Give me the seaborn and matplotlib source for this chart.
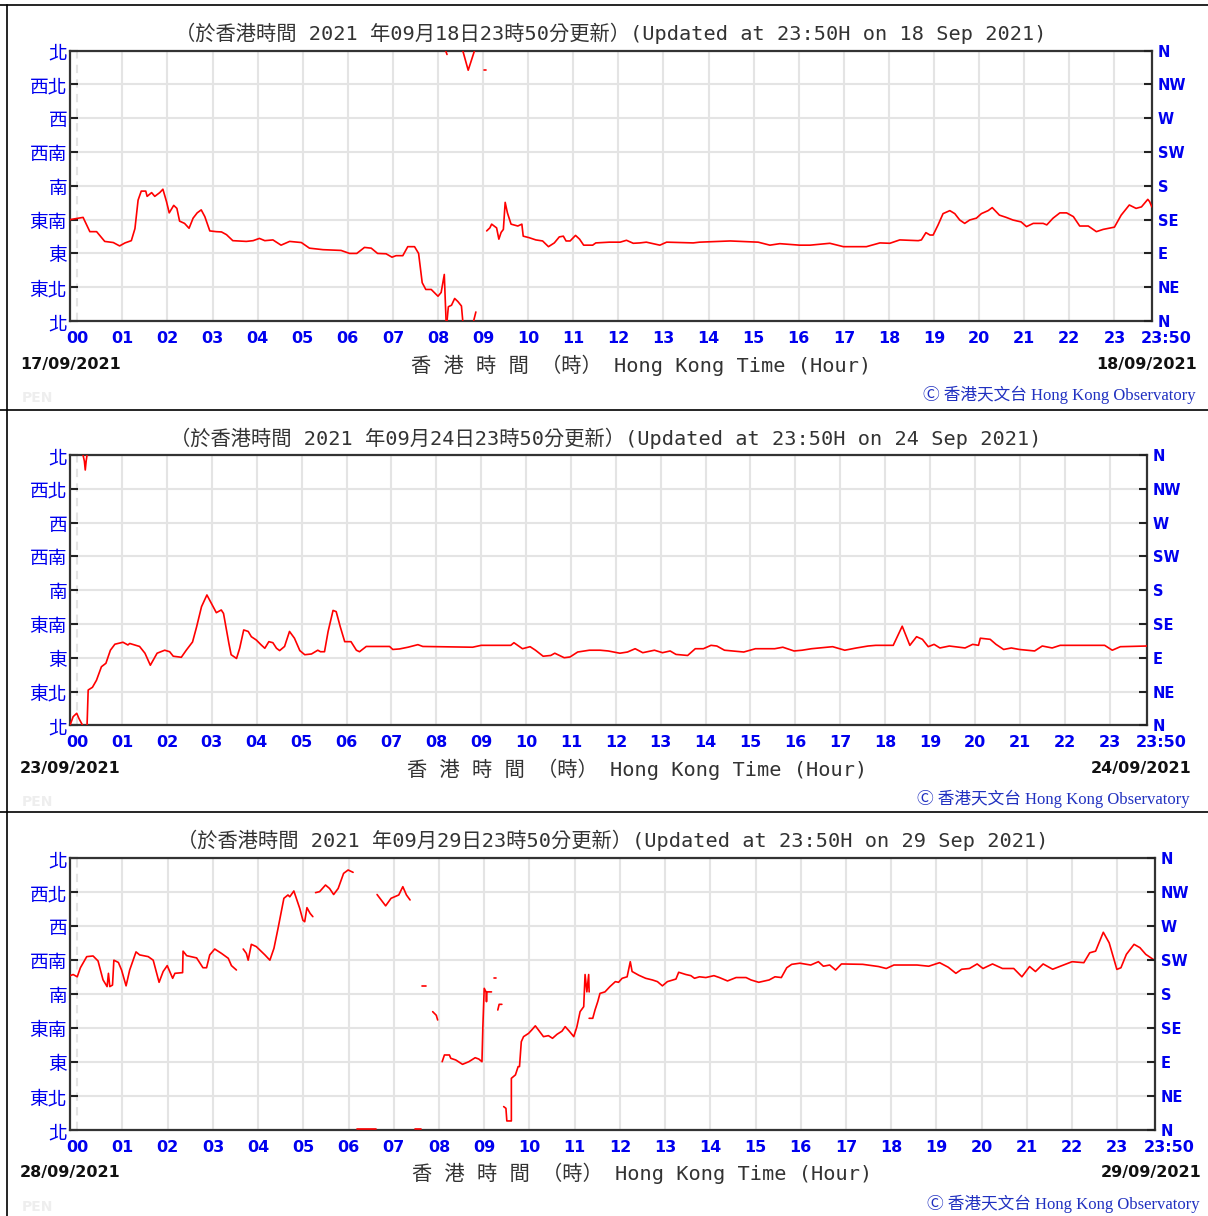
import numpy as np
import pandas as pd
import matplotlib
matplotlib.use('Agg')
from matplotlib import pyplot as plt
from matplotlib.lines import Line2D
import seaborn as sns

# Wind direction (degrees) against Hong Kong time (hours); None = break in the trace
p1_hour = [-0.16, 0.13, 0.28, 0.43, 0.61, 0.8, 0.94, 1.06, 1.2, 1.28, 1.35, 1.42, 1.52, 1.55, 1.65, 1.72,
           1.83, 1.9, 1.98, 2.04, 2.14, 2.21, 2.27, 2.38, 2.48, 2.57, 2.66, 2.75, 2.83, 2.94, 3.08, 3.2,
           3.31, 3.45, 3.75, 3.9, 4.04, 4.16, 4.34, 4.52, 4.71, 4.97, 5.15, 5.45, 5.85, 6.04, 6.2, 6.37,
           6.52, 6.66, 6.85, 6.98, 7.07, 7.22, 7.33, 7.48, 7.57, 7.65, 7.73, 7.85, 8.0, 8.07, 8.14, 8.16,
           8.18, None,
           8.17, 8.2, None,
           8.2, 8.23, 8.3, 8.37, 8.44, 8.52, 8.55, None,
           8.55, 8.67, 8.81, None,
           8.79, 8.84, None,
           9.03, 9.07, None,
           9.08, 9.15, 9.19, 9.3, 9.35, 9.4, 9.45, 9.49, 9.54, 9.62, 9.77, 9.86, 9.89, 10.02, 10.17, 10.32,
           10.45, 10.58, 10.69, 10.78, 10.84, 10.93, 11.05, 11.14, 11.23, 11.43, 11.5, 11.8, 12.04, 12.18,
           12.33, 12.48, 12.62, 12.92, 13.07, 13.66, 13.8, 14.48, 15.1, 15.36, 15.58, 16.02, 16.25, 16.69,
           16.99, 17.5, 17.8, 18.02, 18.24, 18.65, 18.72, 18.82, 18.91, 18.98, 19.09, 19.2, 19.35, 19.46,
           19.57, 19.68, 19.79, 19.94, 20.05, 20.2, 20.29, 20.45, 20.6, 20.75, 20.93, 21.05, 21.2, 21.42,
           21.5, 21.64, 21.79, 21.94, 22.09, 22.23, 22.42, 22.6, 22.75, 23.0, 23.15, 23.33, 23.48, 23.6,
           23.74, 23.78, 23.83]
p1_dir = [135, 138, 119, 119, 106, 104.5, 100, 104, 107, 123, 161, 173, 173, 166, 171, 166,
          171, 175.5, 159, 144, 154, 150, 133, 130, 123.5, 137, 144, 148, 139, 120, 119, 118.6,
          115, 107, 106, 107, 110, 107, 108, 101, 106, 104.5, 97, 95, 94, 90, 90, 98,
          97, 90, 89.5, 85, 87, 87, 99, 99, 90, 51, 42, 42, 33, 38, 62, 30,
          0, None,
          360, 355, None,
          0, 19, 21, 30, 26, 20, 0, None,
          360, 334, 360, None,
          0, 12, None,
          334, 334, None,
          120, 124, 129, 124, 109, 118, 122, 158, 144, 129, 126.5, 129, 113, 111, 108, 106.6,
          99, 104, 112, 113, 106.6, 106.6, 114, 109, 101, 101, 104, 105, 105, 107.5,
          103.5, 104, 105, 101, 105, 104, 105, 106.6, 105, 101, 103, 101, 101, 103.5,
          99, 99, 104, 103.5, 108, 107, 108, 117.7, 114.5, 114.5, 128, 143, 147, 143,
          134.5, 130, 134.5, 137, 143, 147, 151, 141, 138, 134.5, 132, 125.7, 130, 130,
          128, 137, 144, 144, 139, 126.5, 126.5, 119, 122, 125, 141, 154.5, 150, 152,
          162, 159, 152]

p2_hour = [-0.16, -0.09, -0.01, 0.04, 0.12, None,
           0.13, 0.16, 0.18, 0.2, 0.22, None,
           0.22, 0.245, 0.34, 0.43, 0.54, 0.64, 0.74, 0.84, 1.02, 1.13, 1.17, 1.39, 1.51, 1.63, 1.78, 1.95,
           2.06, 2.14, 2.32, 2.43, 2.57, 2.66, 2.77, 2.89, 3.03, 3.1, 3.21, 3.26, 3.38, 3.43, 3.55, 3.62,
           3.71, 3.81, 3.88, 3.99, 4.1, 4.18, 4.27, 4.36, 4.44, 4.51, 4.62, 4.73, 4.84, 4.96, 5.07, 5.22,
           5.36, 5.42, 5.51, 5.59, 5.7, 5.77, 5.86, 5.96, 6.1, 6.22, 6.29, 6.44, 6.96, 7.03, 7.18, 7.37,
           7.59, 7.7, 8.81, 9.0, 9.66, 9.73, 9.92, 10.09, 10.21, 10.38, 10.55, 10.64, 10.85, 10.98, 11.15,
           11.41, 11.65, 11.83, 12.09, 12.26, 12.43, 12.6, 12.86, 13.04, 13.21, 13.34, 13.6, 13.77, 13.95,
           14.12, 14.25, 14.42, 14.85, 15.11, 15.54, 15.72, 15.97, 16.15, 16.36, 16.83, 17.1, 17.36, 17.62,
           17.79, 18.18, 18.38, 18.55, 18.7, 18.83, 18.96, 19.09, 19.22, 19.43, 19.78, 19.95, 20.08, 20.12,
           20.34, 20.47, 20.64, 20.81, 20.99, 21.33, 21.5, 21.72, 21.9, 22.89, 23.06, 23.24, 23.83]
p2_dir = [0, 11.5, 16, 9, 0, None,
          360, 352, 340, 352, 360, None,
          0, 47, 50.6, 60, 78, 82.6, 100, 108, 110.6, 107, 109, 105, 96, 80, 96, 100,
          98, 92, 90.6, 100, 111, 131, 158, 173.6, 158, 150, 153.6, 149, 109, 94, 89, 102.6,
          127, 125, 118, 113.6, 107, 102.6, 111.4, 110, 102.6, 99.5, 105, 125, 116, 99.5, 94, 95,
          100, 98, 98, 125, 153, 151.4, 131.4, 111.4, 111.4, 100, 98, 105, 105, 101, 101.7, 104,
          107.4, 105, 104, 106.5, 106.5, 110, 102, 104.7, 100, 92, 93, 96, 90, 91, 97.6,
          100, 100, 99, 96, 97.6, 102, 96.7, 100, 96.7, 99, 94.4, 93, 102, 102,
          106.5, 105.6, 100, 97.6, 102, 102, 104, 99, 100, 102, 104.7, 100, 103, 105.6,
          106.5, 106.5, 132, 106.5, 118, 114.5, 104.7, 107.8, 103, 105.6, 103, 107.8, 106.5, 116,
          114.5, 107.8, 101, 103, 101, 99, 105.6, 103, 106.5, 106.5, 100, 104.7, 105.6]

p3_hour = [-0.16, -0.09, 0.0, 0.07, 0.21, 0.35, 0.46, 0.57, 0.66, 0.69, 0.72, 0.78, 0.81, 0.91, 0.98,
           1.08, 1.16, 1.3, 1.38, 1.57, 1.68, 1.81, 1.9, 1.99, 2.11, 2.16, 2.33, 2.34, 2.42, 2.64, 2.78,
           2.86, 2.93, 3.04, 3.19, 3.34, 3.41, 3.52, None,
           3.67, 3.74, 3.78, 3.85, 3.96, 4.15, 4.26, 4.35, 4.44, 4.57, 4.66, 4.7, 4.79, 4.92, 4.99, 5.03,
           5.08, 5.15, 5.21, None,
           5.27, 5.36, 5.49, 5.58, 5.67, 5.77, 5.89, 5.99, 6.1, None,
           6.19, 6.6, None,
           6.63, 6.82, 6.94, 7.11, 7.2, 7.28, 7.36, None,
           7.46, 7.6, None,
           7.63, 7.72, None,
           7.86, 7.94, 7.97, None,
           8.07, 8.12, 8.23, 8.26, 8.37, 8.52, 8.66, 8.8, 8.88, 8.95, 8.97, 9.0, 9.04, 9.05, 9.06, 9.16, None,
           9.21, 9.25, None,
           9.3, 9.33, 9.39, None,
           9.43, 9.48, 9.5, 9.6, 9.6, 9.69, 9.75, 9.78, 9.82, 9.87, 9.98, 10.05, 10.13, 10.2, 10.31,
           10.42, 10.51, 10.61, 10.72, 10.79, 10.88, 10.98, 11.05, 11.12, 11.2, 11.23, 11.27, 11.31, 11.32, None,
           11.32, 11.4, 11.45, 11.51, 11.56, 11.67, 11.78, 11.9, 11.97, 12.05, 12.16, 12.23, 12.27, 12.42,
           12.57, 12.72, 12.83, 12.94, 13.05, 13.24, 13.3, 13.46, 13.57, 13.65, 13.76, 13.9, 14.08, 14.2,
           14.38, 14.57, 14.79, 14.9, 15.07, 15.3, 15.43, 15.57, 15.69, 15.8, 15.98, 16.22, 16.39, 16.5,
           16.64, 16.77, 16.9, 17.37, 17.72, 17.89, 18.06, 18.57, 18.83, 19.07, 19.26, 19.43, 19.56, 19.73,
           19.9, 20.03, 20.24, 20.46, 20.71, 20.89, 21.06, 21.19, 21.36, 21.57, 21.74, 22.0, 22.26, 22.39,
           22.52, 22.69, 22.82, 22.99, 23.08, 23.2, 23.37, 23.5, 23.63, 23.82]
p3_dir = [204.5, 206, 203, 215, 229.7, 230.6, 224, 199, 190, 207.6, 190, 192, 225, 222, 212,
          191, 212, 236, 232, 229.7, 225, 195.7, 210, 217.8, 201, 207.6, 208.5, 237, 231, 228, 215,
          215, 232, 239.8, 234, 227.5, 217.8, 212, None,
          239.8, 234, 225, 246, 243, 232, 225, 240.7, 267, 307, 311.4, 309, 316.7, 293.7, 278, 276,
          294.6, 287, 282.7, None,
          314.5, 315.8, 324.6, 320, 312, 320, 340, 344.5, 341.4, None,
          1, 1, None,
          312, 297, 307, 311.4, 322.4, 311.4, 304.8, None,
          1, 1, None,
          190.8, 190.8, None,
          156.8, 152, 145.8, None,
          90.5, 99.4, 99.4, 95, 92.8, 87, 90.5, 95.8, 94, 90.5, 137, 187.7, 183, 170, 183, 183, None,
          201, 201, None,
          159, 166.5, 166.5, None,
          31, 28.7, 12, 12, 68.5, 73, 84, 84, 117, 123.7, 128, 132.5, 138, 132.5, 123.7,
          125, 121.5, 126.8, 131, 137, 131, 123.7, 137, 156.8, 163.4, 206, 183, 206, 183, None,
          148, 148, 159, 170, 181, 183, 190, 196.6, 195.7, 201, 203, 223, 210, 205,
          201, 198.8, 196.6, 191, 196.6, 200, 209, 206, 204.5, 201, 203, 202, 204.5, 202,
          197.5, 202, 202, 198.8, 195.7, 198.8, 203, 202, 215, 219.5, 221, 218.6, 223, 217,
          218.6, 212, 220, 219.5, 216.6, 214, 218.6, 218.6, 217, 221.7, 215.7, 207.6, 213, 214,
          220, 214, 220, 214, 214, 203, 216.6, 210, 220, 213, 217, 223, 221.7, 234.8,
          237, 262, 248, 212.8, 215, 232.7, 246, 241.6, 232.7, 225]

compass_deg = [0, 45, 90, 135, 180, 225, 270, 315, 360]
compass_zh = ['北', '東北', '東', '東南', '南', '西南', '西', '西北', '北']
compass_en = ['N', 'NE', 'E', 'SE', 'S', 'SW', 'W', 'NW', 'N']
hour_ticks = list(range(24))
hour_labels = ['00', '01', '02', '03', '04', '05', '06', '07', '08', '09', '10', '11',
               '12', '13', '14', '15', '16', '17', '18', '19', '20', '21', '22', '23']
titles = ['（於香港時間 2021 年09月18日23時50分更新）(Updated at 23:50H on 18 Sep 2021)',
          '（於香港時間 2021 年09月24日23時50分更新）(Updated at 23:50H on 24 Sep 2021)',
          '（於香港時間 2021 年09月29日23時50分更新）(Updated at 23:50H on 29 Sep 2021)']
dates_left = ['17/09/2021', '23/09/2021', '28/09/2021']
dates_right = ['18/09/2021', '24/09/2021', '29/09/2021']

W, H = 1208, 1216
BLUE = '#0000ee'
MONO_CJK = ['DejaVu Sans Mono', 'Noto Sans CJK TC']

sns.set_style('white')
plt.rcParams['font.family'] = ['DejaVu Sans', 'Noto Sans CJK TC']

fig = plt.figure(figsize=(W / 100, H / 100), dpi=100)


def fx(px):
    return px / W


def fy(py):
    return 1 - py / H


# panel boxes in pixels: left, right, top, bottom
boxes = [(70, 1152, 50.7, 321), (70, 1147, 455, 725.3), (70, 1155, 858.3, 1130)]
title_pos = [(611, 33), (606, 438), (613, 840)]
xlabel_pos = [(641, 365), (637, 769), (642, 1173)]
date_right_x = [1197, 1192, 1201]
credit_pos = [(1196, 395), (1190, 799), (1200, 1204)]
series = [(p1_hour, p1_dir), (p2_hour, p2_dir), (p3_hour, p3_dir)]

for i, (hrs, dirs) in enumerate(series):
    l, r, t, b = boxes[i]
    ax = fig.add_axes([fx(l), fy(b), (r - l) / W, (b - t) / H])

    df = pd.DataFrame({'hour': hrs, 'dir': dirs}, dtype=float)
    df['seg'] = df['dir'].isna().cumsum()
    df = df.dropna()
    sns.lineplot(data=df, x='hour', y='dir', units='seg', estimator=None, sort=False,
                 color='#ff0000', lw=1.2, ax=ax, legend=False, zorder=3)

    ax.set_xlim(-0.16, 23 + 50 / 60)
    ax.set_ylim(0, 360)
    ax.set_xlabel('')
    ax.set_ylabel('')
    ax.set_axisbelow(True)
    ax.set_xticks(hour_ticks)
    ax.set_xticklabels(hour_labels, color=BLUE, fontweight='bold', fontsize=11.5)
    ax.set_yticks(compass_deg)
    ax.set_yticklabels(compass_zh, color=BLUE, fontsize=13.5, family='Noto Sans CJK TC')
    ax.tick_params(axis='x', direction='in', length=6, width=1.5, color='#222222', pad=7)
    ax.tick_params(axis='y', direction='in', length=6, width=1.5, color='#222222', pad=2)
    ax.grid(True, color='#e4e4e4', lw=1.5)
    ax.get_xgridlines()[0].set_linestyle((0, (4, 3)))
    for sp in ax.spines.values():
        sp.set_color('#333333')
        sp.set_linewidth(1.6)

    ax.annotate('23:50', xy=(23 + 50 / 60, 0), xycoords=('data', 'axes fraction'),
                xytext=(10, -7), textcoords='offset points', ha='center', va='top',
                color=BLUE, fontweight='bold', fontsize=11.5)

    tw = ax.twinx()
    tw.set_ylim(0, 360)
    tw.set_yticks(compass_deg)
    tw.set_yticklabels(compass_en, color=BLUE, fontweight='bold', fontsize=10.5)
    tw.tick_params(axis='y', direction='in', length=6, width=1.5, color='#222222', pad=4)
    for sp in tw.spines.values():
        sp.set_visible(False)

    tx, ty = title_pos[i]
    fig.text(fx(tx), fy(ty), titles[i], ha='center', va='center', fontsize=14.6,
             color='#333333', family=MONO_CJK)
    lx, ly = xlabel_pos[i]
    fig.text(fx(lx), fy(ly), '香 港 時 間 （時） Hong Kong Time (Hour)', ha='center', va='center',
             fontsize=14.6, color='#333333', family=MONO_CJK)
    fig.text(fx(20), fy(ly), dates_left[i], ha='left', va='center', fontsize=11.5,
             fontweight='bold', color='#111111')
    fig.text(fx(date_right_x[i]), fy(ly), dates_right[i], ha='right', va='center',
             fontsize=11.5, fontweight='bold', color='#111111')
    cx, cy = credit_pos[i]
    fig.text(fx(cx), fy(cy), 'Ⓒ 香港天文台 Hong Kong Observatory', ha='right', va='center',
             fontsize=12, color='#2030c0', family=['Liberation Serif', 'Noto Sans CJK TC'])
    fig.text(fx(22), fy(cy + 3), 'PEN', ha='left', va='center', fontsize=10,
             fontweight='bold', color='#eeeeee')

# screenshot frames around each panel
for y0, y1 in [(5, 409), (410, 811), (812, 1216)]:
    fig.add_artist(Line2D([fx(0), fx(W)], [fy(y0), fy(y0)], color='black', lw=1.2))
    fig.add_artist(Line2D([fx(6.5), fx(6.5)], [fy(y0), fy(y1)], color='black', lw=1.2))

fig.savefig('out.png', dpi=100)
